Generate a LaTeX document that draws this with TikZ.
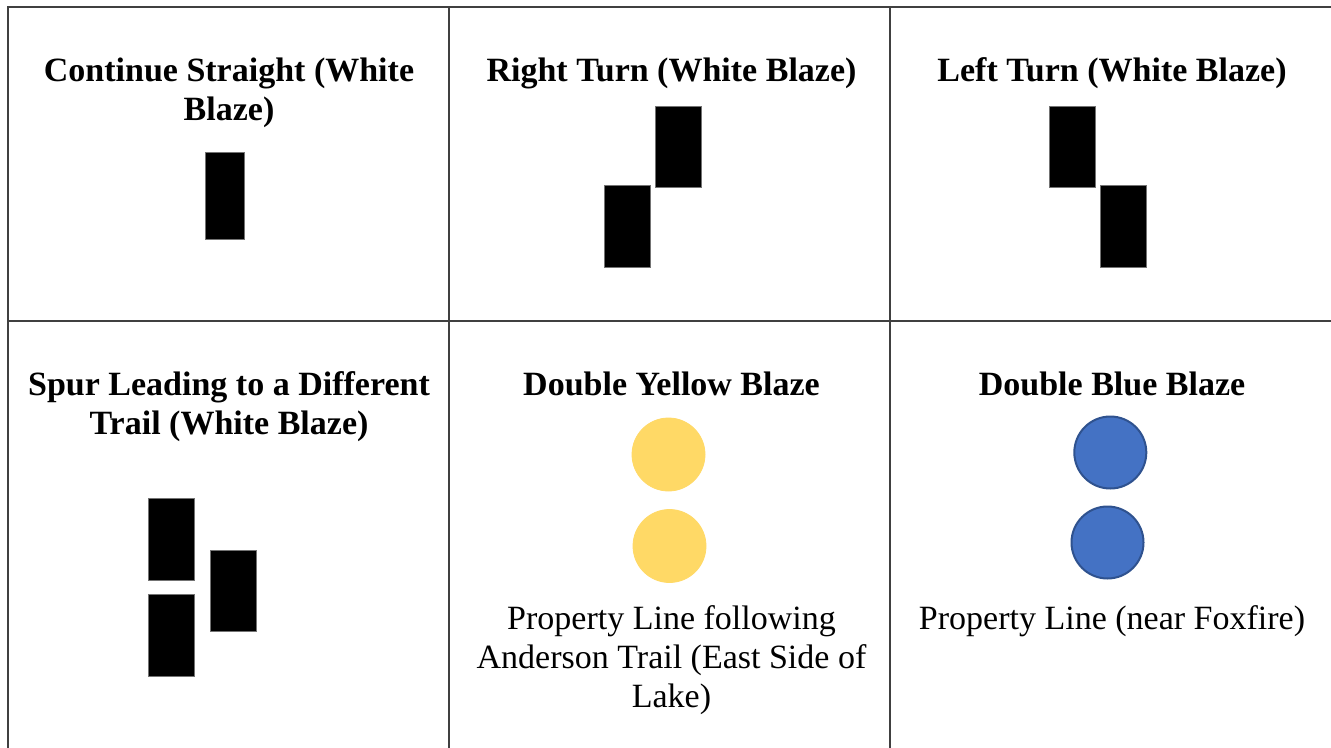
\documentclass[tikz,border=0pt]{standalone}
\usepackage{fontspec}
\setmainfont{Liberation Serif}
\definecolor{gridc}{HTML}{404040}
\definecolor{blazeyellow}{HTML}{FFD966}
\definecolor{blazeblue}{HTML}{4472C4}
\definecolor{blueedge}{HTML}{2F528F}
\begin{document}
\begin{tikzpicture}[x=0.5pt,y=-0.5pt,
  gridline/.style={draw=gridc,line width=1pt},
  head/.style={font=\fontsize{17}{19.5}\selectfont\bfseries,align=center,anchor=base,inner sep=0pt},
  body/.style={font=\fontsize{17}{19.5}\selectfont,align=center,anchor=base,inner sep=0pt},
  blazerect/.style={fill=black,draw=black!55,line width=0.3pt},
  ycirc/.style={circle,fill=blazeyellow,draw=blazeyellow,inner sep=0pt,minimum size=36.5pt},
  bcirc/.style={circle,fill=blazeblue,draw=blueedge,line width=1pt,inner sep=0pt,minimum size=36pt}]
\useasboundingbox (0,0) rectangle (1331,748);
\fill[white] (0,0) rectangle (1331,748);
% grid
\draw[gridline] (1331,7.5) -- (7.5,7.5) -- (7.5,748);
\draw[gridline] (449.3,7.5) -- (449.3,748);
\draw[gridline] (890.3,7.5) -- (890.3,748);
\draw[gridline] (7.5,321.5) -- (1331,321.5);
% headings row 1 (multi-line nodes are placed at the baseline of their last line)
\node[head] (h1) at (229,121) {Continue Straight (White\\Blaze)};
\node[head] (h2) at (671.5,82) {Right Turn (White Blaze)};
\node[head] (h3) at (1112,82) {Left Turn (White Blaze)};
% headings row 2
\node[head] (h4) at (229,434) {Spur Leading to a Different\\Trail (White Blaze)};
\node[head] (h5) at (671.5,395) {Double Yellow Blaze};
\node[head] (h6) at (1112,395) {Double Blue Blaze};
% captions
\node[body] (c5) at (671.5,707) {Property Line following\\Anderson Trail (East Side of\\Lake)};
\node[body] (c6) at (1112,629) {Property Line (near Foxfire)};
% straight
\filldraw[blazerect] (205.3,152.3) rectangle (244.3,239);
% right turn
\filldraw[blazerect] (655.7,106) rectangle (701.7,187.3);
\filldraw[blazerect] (604,185.3) rectangle (650,267.7);
% left turn
\filldraw[blazerect] (1049,106) rectangle (1095,187.3);
\filldraw[blazerect] (1100.7,185.3) rectangle (1146.7,267.7);
% spur
\filldraw[blazerect] (148.3,498.3) rectangle (194.7,580);
\filldraw[blazerect] (148.3,594.3) rectangle (194.7,676);
\filldraw[blazerect] (210.7,550) rectangle (256.7,631.3);
% circles
\node[ycirc] (y1) at (668.5,454.5) {};
\node[ycirc] (y2) at (669.5,546) {};
\node[bcirc] (b1) at (1110.3,452.5) {};
\node[bcirc] (b2) at (1107.5,542.5) {};
\end{tikzpicture}
\end{document}
